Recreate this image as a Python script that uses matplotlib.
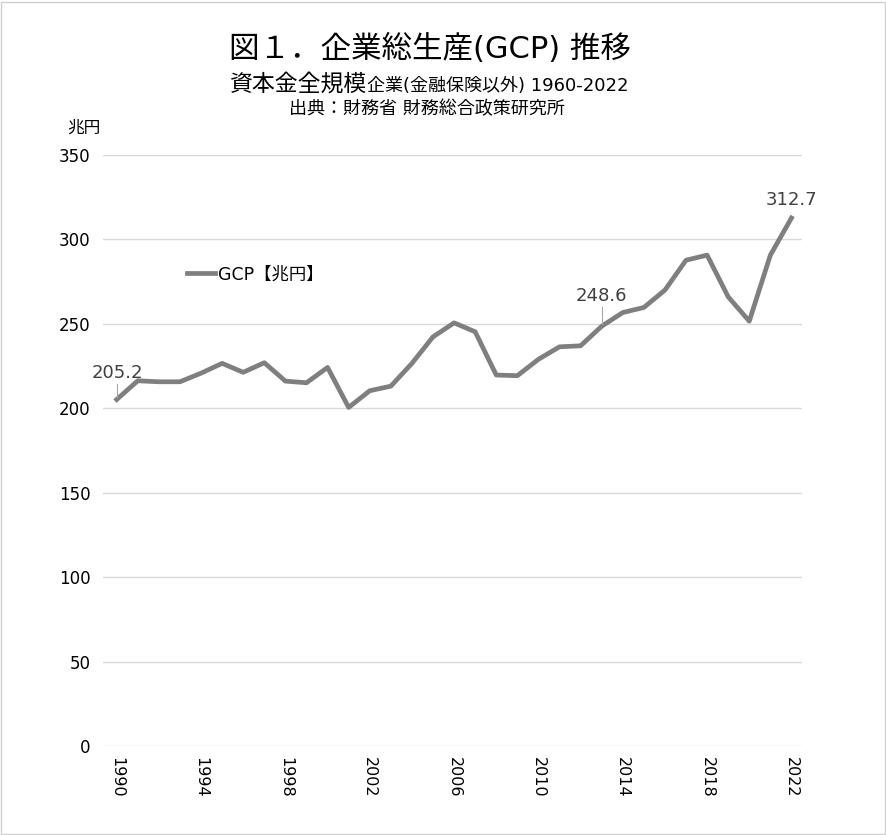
import matplotlib
matplotlib.use('Agg')
from matplotlib import pyplot as plt
from matplotlib.patches import Rectangle

# DejaVu for latin/digits, Noto CJK picks up the Japanese glyphs
plt.rcParams['font.family'] = ['DejaVu Sans', 'Noto Sans CJK JP']

# GCP data (trillion yen)
years = list(range(1990, 2023))
gcp = [205.2, 216.3, 215.7, 215.7, 220.8, 226.6, 221.3, 227.0, 216.1, 215.1,
       224.2, 200.5, 210.4, 213.1, 226.6, 242.3, 250.6, 245.3, 219.7, 219.3,
       229.0, 236.4, 237.0, 248.6, 256.7, 259.7, 270.0, 287.7, 290.7, 266.0,
       251.6, 290.7, 312.7]
labelled = {1990: '205.2', 2013: '248.6', 2022: '312.7'}
x_ticks = list(range(1990, 2023, 4))
y_ticks = list(range(0, 351, 50))

W, H = 887, 835
fig = plt.figure(figsize=(W / 100, H / 100), dpi=100)
ax = fig.add_axes([103 / W, 1 - 746 / H, (802 - 103) / W, (746 - 155) / H])

ax.plot(years, gcp, color='#7f7f7f', lw=3.4, solid_joinstyle='round',
        label='GCP【兆円】')

ax.set_xlim(1989.35, 2022.5)
ax.set_ylim(0, 350)
ax.set_xticks(x_ticks)
ax.set_xticklabels([str(t) for t in x_ticks], rotation=270, fontsize=11.5)
ax.set_yticks(y_ticks)
ax.set_yticklabels([str(t) for t in y_ticks], fontsize=12)
ax.tick_params(length=0)
ax.tick_params(axis='y', pad=9)
ax.tick_params(axis='x', pad=8)
ax.grid(axis='y', color='#d9d9d9', lw=1)
ax.set_axisbelow(True)
for s in ax.spines.values():
    s.set_visible(False)

# data labels with leader lines
offsets = {1990: (1990.05, 215.5), 2013: (2013.0, 261), 2022: (2022.0, 318)}
for yr, txt in labelled.items():
    v = gcp[years.index(yr)]
    tx, ty = offsets[yr]
    ax.text(tx, ty, txt, ha='center', va='bottom', fontsize=13, color='#404040')
    if yr != 2022:
        ax.plot([yr, yr], [v + 1.5, ty - 1], color='#a6a6a6', lw=0.8)

ax.legend(loc='upper left', bbox_to_anchor=(0.098, 0.84), frameon=False,
          fontsize=12.5, handlelength=1.6, handletextpad=0.2)

fig.text(67 / W, 1 - 128 / H, '兆円', ha='left', va='center', fontsize=12)

fig.text(430 / W, 1 - 49 / H, '図１．企業総生産(GCP) 推移', ha='center', va='center',
         fontsize=22)
fig.text(367 / W, 1 - 84 / H, '資本金全規模', ha='right', va='center', fontsize=16.5)
fig.text(367 / W, 1 - 86 / H, '企業(金融保険以外) 1960-2022', ha='left', va='center',
         fontsize=13)
fig.text(427 / W, 1 - 109 / H, '出典：財務省 財務総合政策研究所', ha='center',
         va='center', fontsize=13)

fig.patches.append(Rectangle((0.001, 0.001), 0.997, 0.997, transform=fig.transFigure,
                             fill=False, edgecolor='#d0d0d0', lw=1))

fig.savefig('out.png', dpi=100)
